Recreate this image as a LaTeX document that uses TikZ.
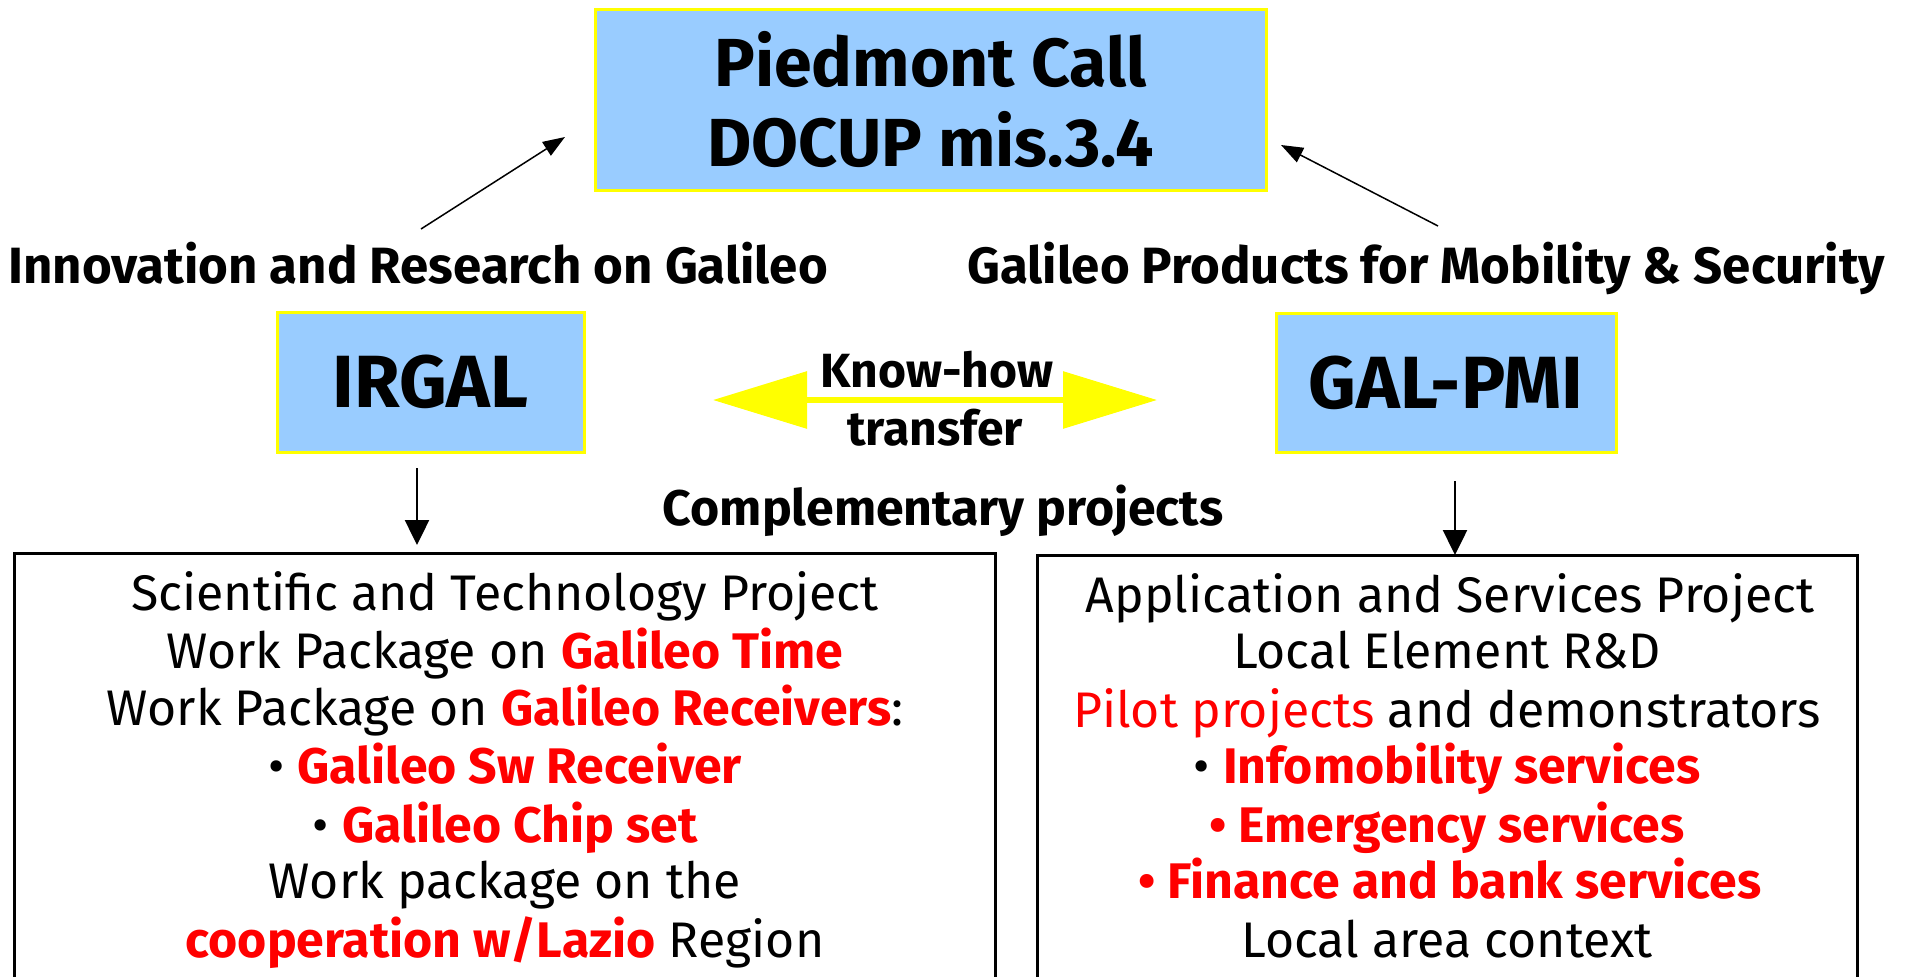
\documentclass[tikz,border=0pt]{standalone}
\usepackage{fontspec}
\setmainfont{Fira Sans}
\usetikzlibrary{arrows.meta}
\definecolor{boxblue}{HTML}{99CCFF}
\definecolor{yel}{HTML}{FFFF00}
\definecolor{hired}{HTML}{FF0000}
\newcommand\hl[1]{{\color{hired}\bfseries #1}}
\newcommand\hr[1]{{\color{hired}#1}}
\begin{document}
\begin{tikzpicture}[x=1pt,y=-1pt,
  bluebox/.style={draw=yel, fill=boxblue, line width=3pt, rectangle, inner sep=0pt, align=center},
  projbox/.style={draw=black, line width=3pt, rectangle, inner sep=0pt, anchor=north},
  txt/.style={anchor=base, inner sep=0pt, font=\fontsize{50}{58}\selectfont},
  lbl/.style={anchor=base, inner sep=0pt, font=\fontsize{51}{58}\selectfont\bfseries},
  thinarrow/.style={line width=1.5pt, -{Triangle[length=22pt,width=16pt]}},
  downarrow/.style={line width=2.5pt, -{Triangle[length=25pt,width=24pt]}}]
\useasboundingbox (0,0) rectangle (1915,977);
\clip (0,0) rectangle (1915,977);

% top box
\node[bluebox, minimum width=671pt, minimum height=181pt,
      font=\fontsize{68}{80}\selectfont\bfseries] (call) at (930.5,99.5)
      {Piedmont Call\\DOCUP mis.3.4};

% labels
\node[lbl] (innov) at (418,283) {Innovation and Research on Galileo};
\node[lbl] (prod) at (1426,283) {Galileo Products for Mobility \& Security};

% blue boxes
\node[bluebox, minimum width=307pt, minimum height=140pt,
      font=\fontsize{74}{80}\selectfont\bfseries] (irgal) at (430.5,382) {IRGAL};
\node[bluebox, minimum width=340pt, minimum height=139pt,
      font=\fontsize{74}{80}\selectfont\bfseries] (galpmi) at (1446,382.5) {GAL-PMI};

% know-how transfer
\coordinate (kl) at (713,400);
\coordinate (kr) at (1157,400);
\draw[yel, line width=6pt, {Triangle[length=94pt,width=56pt]}-{Triangle[length=94pt,width=56pt]}] (kl) -- (kr);
\node[lbl, font=\fontsize{48}{58}\selectfont\bfseries] (know) at (937,387) {Know-how};
\node[lbl, font=\fontsize{48}{58}\selectfont\bfseries] (transfer) at (935,445) {transfer};

\node[lbl, font=\fontsize{50}{58}\selectfont\bfseries] (compl) at (943,525) {Complementary projects};

% connectors to top
\coordinate (a1s) at (421,229);
\coordinate (a1e) at (565,137);
\coordinate (a2s) at (1438,226);
\coordinate (a2e) at (1281,145);
\draw[thinarrow] (a1s) -- (a1e);
\draw[thinarrow] (a2s) -- (a2e);

% project boxes
\node[projbox, minimum width=981pt, minimum height=480pt] (sci) at (504.5,552) {};
\node[projbox, minimum width=820pt, minimum height=480pt] (app) at (1447,554) {};

% down arrows
\coordinate (d1s) at (417,468);
\coordinate (d1e) at (417,545);
\coordinate (d2s) at (1455,481);
\coordinate (d2e) at (1455,555);
\draw[downarrow] (d1s) -- (d1e);
\draw[downarrow] (d2s) -- (d2e);

% left box text
\node[txt] (s1) at (505,610) {Scientific and Technology Project};
\node[txt] (s2) at (505,668) {Work Package on \hl{Galileo Time}};
\node[txt] (s3) at (505,725) {Work Package on \hl{Galileo Receivers}:};
\node[txt] (s4) at (505,783) {\textbullet\ \hl{Galileo Sw Receiver}};
\node[txt] (s5) at (505,842) {\textbullet\ \hl{Galileo Chip set}};
\node[txt] (s6) at (505,898) {Work package on the};
\node[txt] (s7) at (505,957) {\hl{cooperation w/Lazio} Region};

% right box text
\node[txt] (p1) at (1450,612) {Application and Services Project};
\node[txt] (p2) at (1447,668) {Local Element R\&D};
\node[txt] (p3) at (1447,727) {\hr{Pilot projects} and demonstrators};
\node[txt] (p4) at (1447,783) {\textbullet\ \hl{Infomobility services}};
\node[txt] (p5) at (1447,842) {\hl{\textbullet\ Emergency services}};
\node[txt] (p6) at (1450,898) {\hl{\textbullet\ Finance and bank services}};
\node[txt] (p7) at (1447,957) {Local area context};
\end{tikzpicture}
\end{document}
